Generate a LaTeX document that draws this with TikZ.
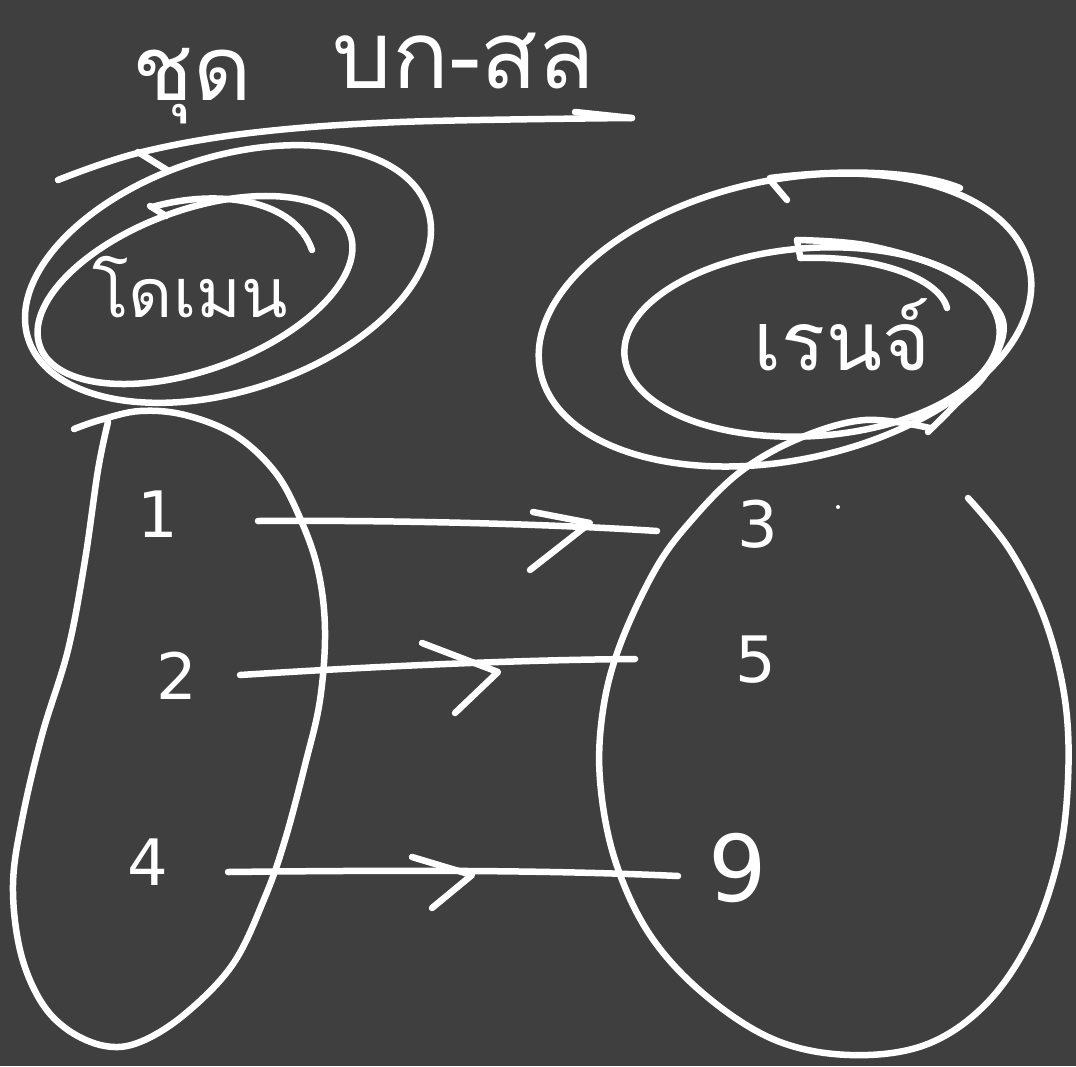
\documentclass[tikz,border=0pt]{standalone}
\usepackage{fontspec}
\newfontfamily\thaifont[Script=Thai]{Loma}
\newfontfamily\digitfont{DejaVu Sans}
\definecolor{board}{RGB}{63,63,63}
\begin{document}
\begin{tikzpicture}[x=1pt,y=-1pt,
  ink/.style={draw=white,line width=6.5pt,line cap=round,line join=round},
  num/.style={text=white,font=\digitfont\fontsize{64}{64}\selectfont,inner sep=0pt},
  thai/.style={text=white,font=\thaifont\fontsize{68}{68}\selectfont,inner sep=0pt,anchor=base}]
\fill[board] (0,0) rectangle (1076,1066);
\useasboundingbox (0,0) rectangle (1076,1066);

% top label and stroke
\node[thai,font=\thaifont\fontsize{90}{90}\selectfont] (t1) at (192,100) {ชุด};
\node[thai,font=\thaifont\fontsize{94}{94}\selectfont] (t2) at (464,88) {บก-สล};
\draw[ink] plot[smooth,tension=0.6] coordinates {(58,180) (138,153) (250,133) (400,122) (632,118)};
\draw[ink] (575,112) -- (632,118);

% left ovals (domain)
\draw[ink,rotate around={18:(228,274)}] (228,274) ellipse [x radius=210,y radius=117];
\draw[ink] (138,152) -- (167,170);
\draw[ink,rotate around={20:(195,290)}] (195,290) ellipse [x radius=165,y radius=80];
\draw[ink] (152,207) .. controls (220,188) and (295,200) .. (312,250);
\draw[ink] (150,206) -- (166,216);
\node[thai] (dom) at (190,317) {โดเมน};

% right ovals (range)
\draw[ink,rotate around={12:(785,320)}] (785,320) ellipse [x radius=250,y radius=140];
\draw[ink] (770,178) .. controls (850,168) and (920,172) .. (960,188);
\draw[ink] (770,180) -- (787,200);
\draw[ink,rotate around={4:(812,342)}] (812,342) ellipse [x radius=188,y radius=94];
\draw[ink] (800,258) .. controls (880,255) and (940,280) .. (947,308);
\draw[ink] plot[smooth,tension=0.6] coordinates {(797,240) (870,246) (950,272) (1002,318) (988,370) (955,405) (928,432)};
\draw[ink] (797,240) -- (800,256);
\node[thai,font=\thaifont\fontsize{82}{82}\selectfont] (rng) at (842,370) {เรนจ์};

% left set blob
\draw[ink] plot[smooth,tension=0.6] coordinates {(108,422) (98,470) (85,560) (68,650) (42,735) (22,820) (13,885) (20,950) (40,1000) (68,1030) (105,1046) (140,1042) (185,1014) (233,964) (265,897) (285,840) (305,765) (320,700) (325,630) (318,570) (300,518) (275,472) (235,435) (185,415) (140,411) (100,420) (74,429)};

% right set
\draw[ink] plot[smooth,tension=0.6] coordinates {(968,498) (1010,550) (1045,620) (1065,700) (1068,780) (1058,860) (1030,940) (985,1005) (925,1045) (850,1055) (775,1040) (705,995) (650,935) (615,860) (600,780) (603,710) (620,645) (655,570) (690,522) (740,472) (800,438) (865,420) (930,428)};

% elements
\node[num] (n1) at (158,514) {1};
\node[num] (n2) at (177,676) {2};
\node[num] (n4) at (148,862) {4};
\node[num] (n3) at (758,524) {3};
\node[num] (n5) at (756,660) {5};
\node[num,font=\digitfont\fontsize{92}{92}\selectfont] (n9) at (738,868) {9};
\fill[white] (838,507) circle (2);

% mapping arrows
\coordinate (a1s) at (258,521); \coordinate (a1e) at (657,531);
\coordinate (a2s) at (240,675); \coordinate (a2e) at (635,659);
\coordinate (a4s) at (228,872); \coordinate (a4e) at (678,876);
\draw[ink] (a1s) .. controls (400,520) and (550,524) .. (a1e);
\draw[ink] (533,512) -- (590,523) -- (530,570);
\draw[ink] (a2s) .. controls (350,668) and (500,660) .. (a2e);
\draw[ink] (422,643) -- (498,672) -- (455,713);
\draw[ink] (a4s) .. controls (400,870) and (550,870) .. (a4e);
\draw[ink] (412,857) -- (472,875) -- (432,908);
\end{tikzpicture}
\end{document}
